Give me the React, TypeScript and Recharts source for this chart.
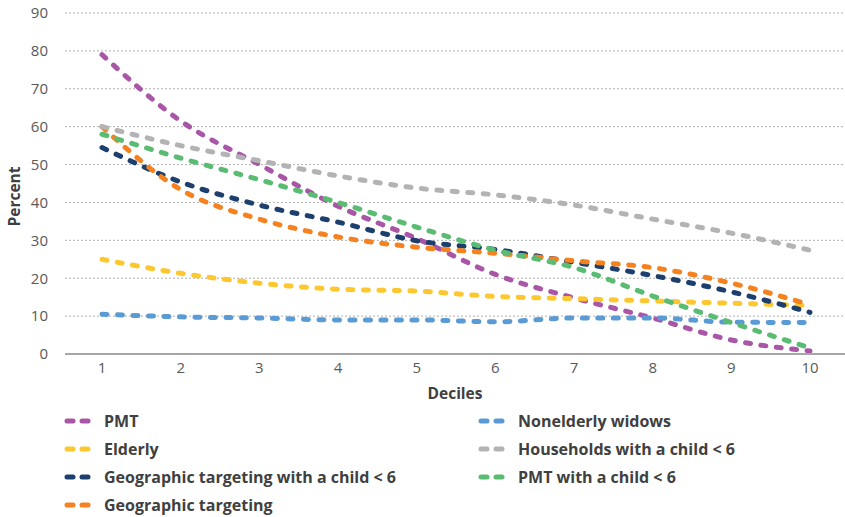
import React from 'react';
import { LineChart, Line, XAxis, YAxis, CartesianGrid, Legend } from 'recharts';

const deciles = ['1', '2', '3', '4', '5', '6', '7', '8', '9', '10'];
const pmt = [79, 61.5, 50, 39, 30.5, 21, 14.8, 9.5, 3.7, 0.8];
const elderly = [25, 21.3, 18.7, 17.1, 16.6, 15.2, 14.6, 14, 13.4, 12.8];
const geoChild = [54.5, 45.4, 39.3, 34.8, 29.9, 27.6, 24.2, 20.7, 16.4, 11];
const geo = [60, 43.4, 35.6, 30.9, 28.2, 26.6, 24.6, 22.8, 18.7, 13];
const widows = [10.5, 9.8, 9.5, 9, 9, 8.5, 9.5, 9.5, 8.4, 8.3];
const householdsChild = [60, 55, 51, 47, 43.8, 42, 39.3, 35.6, 31.9, 27.4];
const pmtChild = [58, 51.7, 46, 40, 33.5, 27.4, 22.8, 15.3, 8.3, 1.6];

const series = [
  { key: 'pmt', name: 'PMT', color: '#a956a7', values: pmt },
  { key: 'elderly', name: 'Elderly', color: '#fdc82f', values: elderly },
  { key: 'geoChild', name: 'Geographic targeting with a child < 6', color: '#1d3f6e', values: geoChild },
  { key: 'geo', name: 'Geographic targeting', color: '#f5821f', values: geo },
  { key: 'widows', name: 'Nonelderly widows', color: '#5b9bd5', values: widows },
  { key: 'householdsChild', name: 'Households with a child < 6', color: '#b3b3b6', values: householdsChild },
  { key: 'pmtChild', name: 'PMT with a child < 6', color: '#5abb72', values: pmtChild },
];

const data = deciles.map((d, i) => {
  const row: Record<string, string | number> = { decile: d };
  series.forEach(s => { row[s.key] = s.values[i]; });
  return row;
});

const font = '"Open Sans", sans-serif';

const LegendBox = () => {
  const left = series.slice(0, 4);
  const right = series.slice(4);
  const item = (s: typeof series[number], x: number, row: number) => (
    <div key={s.key} style={{ position: 'absolute', left: x, top: 21 + row * 28 - 10, height: 20, display: 'flex', alignItems: 'center' }}>
      <svg width={42} height={20}>
        <line x1={5} y1={10} x2={11} y2={10} stroke={s.color} strokeWidth={5} strokeLinecap="round" />
        <line x1={20} y1={10} x2={26} y2={10} stroke={s.color} strokeWidth={5} strokeLinecap="round" />
      </svg>
      <span style={{ fontFamily: font, fontWeight: 700, fontSize: 16, color: '#404040', whiteSpace: 'nowrap' }}>{s.name}</span>
    </div>
  );
  return (
    <div style={{ position: 'relative', width: 845, height: 117 }}>
      {left.map((s, i) => item(s, 62, i))}
      {right.map((s, i) => item(s, 476, i))}
    </div>
  );
};

const PercentLabel = (props: any) => {
  const vb = props.viewBox || { x: 0, y: 0, width: 0, height: 0 };
  const cx = vb.x + 14;
  const cy = vb.y + vb.height / 2 + 13;
  return (
    <text
      x={cx}
      y={cy}
      transform={`rotate(-90, ${cx}, ${cy})`}
      textAnchor="middle"
      dominantBaseline="central"
      fill="#404040"
      fontSize={15.5}
      fontWeight={700}
      fontFamily={font}
    >
      Percent
    </text>
  );
};

export default function App() {
  return (
    <div style={{ position: 'absolute', left: 0, top: 0, width: 845, height: 517, background: '#fff' }}>
      <LineChart width={845} height={517} data={data} margin={{ top: 13, right: 0, bottom: 0, left: 0 }}>
        <CartesianGrid vertical={false} stroke="#b0b0b0" strokeDasharray="2 2" />
        <XAxis
          dataKey="decile"
          padding={{ left: 37, right: 35 }}
          tickLine={false}
          axisLine={{ stroke: '#a6a6a6', strokeWidth: 2 }}
          tick={{ fill: '#595959', fontSize: 15, fontFamily: font }}
          height={46}
          label={{ value: 'Deciles', position: 'insideBottom', offset: 1, style: { fill: '#404040', fontSize: 15.5, fontWeight: 700, fontFamily: font } }}
        />
        <YAxis
          domain={[0, 90]}
          ticks={[0, 10, 20, 30, 40, 50, 60, 70, 80, 90]}
          tickLine={false}
          axisLine={false}
          width={65}
          tickMargin={11}
          tick={{ fill: '#595959', fontSize: 15, fontFamily: font }}
          label={<PercentLabel />}
        />
        <Legend verticalAlign="bottom" content={() => <LegendBox />} wrapperStyle={{ left: 0, width: 845, height: 117 }} />
        {series.map(s => (
          <Line
            key={s.key}
            type="monotone"
            dataKey={s.key}
            name={s.name}
            stroke={s.color}
            strokeWidth={5}
            strokeDasharray="5 10.5"
            strokeLinecap="round"
            dot={false}
            activeDot={false}
            isAnimationActive={false}
          />
        ))}
      </LineChart>
    </div>
  );
}
